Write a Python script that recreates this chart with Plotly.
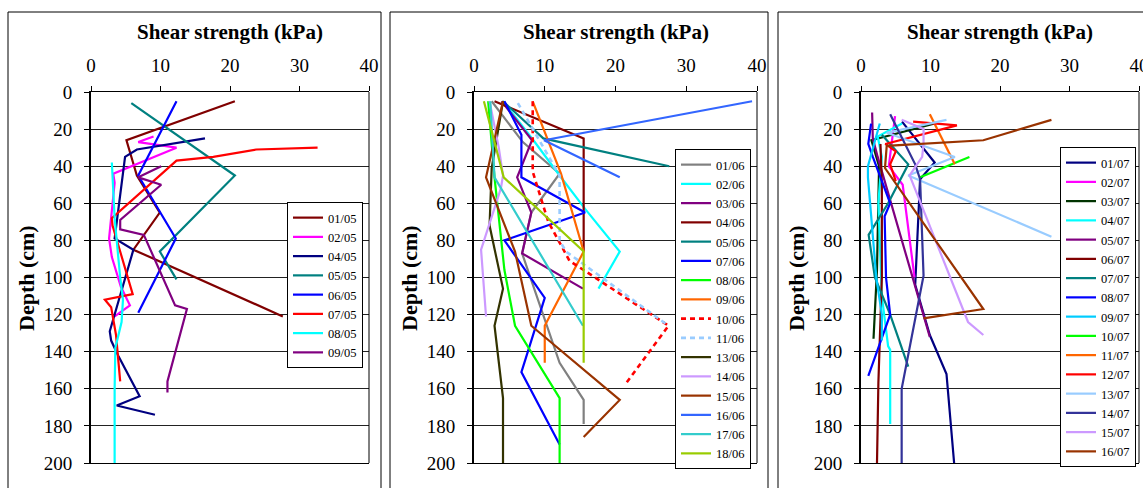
import plotly.graph_objects as go

W, H = 1143, 488
FONT = "Liberation Serif"

# ---------------- Panel 1 (May) ----------------
labels_may = ["01/05", "02/05", "04/05", "05/05", "06/05", "07/05", "08/05", "09/05"]
v_0105 = [20.7, 5.1, 6.6, 9.9, 6.1, 27.6]
d_0105 = [5, 26, 45, 65, 85, 121]
v_0205 = [9.0, 6.8, 12.3, 3.2, 3.4, 2.6, 3.0, 4.3, 5.6, 3.4]
d_0205 = [24, 27, 30, 44, 49, 79, 89, 105, 115, 121]
v_0405 = [16.4, 6.6, 4.9, 3.4, 6.1, 2.7, 2.9, 3.9, 7.0, 3.7, 9.2]
d_0405 = [25, 31, 35, 79, 85, 129, 134, 142, 164, 169, 174]
v_0505 = [5.8, 20.7, 9.9, 12.3]
d_0505 = [6, 45, 86, 101]
v_0605 = [12.3, 6.8, 12.2, 6.8]
d_0605 = [5, 45, 79, 119]
v_0705 = [32.6, 23.8, 17.6, 12.3, 3.0, 3.1, 6.0, 2.0, 2.9, 3.6, 4.2]
d_0705 = [30, 31, 35, 37, 68, 72, 109, 112, 116, 131, 156]
v_0805 = [3.0, 3.4, 4.2, 4.6, 4.4, 3.5, 3.4, 3.4]
d_0805 = [38, 68, 100, 112, 124, 138, 160, 200]
v_0905 = [10.1, 6.8, 10.1, 4.2, 4.2, 7.6, 12.1, 13.8, 11.0, 11.0]
d_0905 = [40, 46, 50, 69, 74, 77, 115, 117, 156, 162]

# ---------------- Panel 2 (June) ----------------
labels_jun = ["01/06", "02/06", "03/06", "04/06", "05/06", "07/06", "08/06", "09/06",
              "10/06", "11/06", "13/06", "14/06", "15/06", "16/06", "17/06", "18/06"]
v_0106 = [2.5, 6.9, 12.1, 8.1, 6.8, 12.1, 15.5, 15.5]
d_0106 = [5, 27, 44, 65, 87, 146, 166, 179]
v_0206 = [4.1, 8.4, 12.1, 15.7, 20.6, 17.6]
d_0206 = [5, 26, 45, 63, 86, 106]
v_0306 = [3.9, 8.2, 6.1, 8.1, 6.8, 15.4]
d_0306 = [5, 26, 46, 65, 87, 106]
v_0406 = [2.9, 15.5, 15.5]
d_0406 = [5, 25, 86]
v_0506 = [4.1, 9.8, 27.6]
d_0506 = [5, 25, 40]
v_0706 = [4.3, 6.7, 6.7, 15.7, 4.3, 10.0, 6.7, 12.1]
d_0706 = [5, 23, 46, 65, 80, 111, 151, 190]
v_0806 = [2.0, 2.9, 4.3, 5.8, 12.1, 12.1]
d_0806 = [5, 46, 96, 126, 165, 200]
v_0906 = [8.3, 12.3, 15.5, 10.0, 10.0]
d_0906 = [5, 44, 86, 126, 146]
v_1006 = [8.3, 8.3, 10.5, 12.1, 13.5, 27.5, 21.5]
d_1006 = [5, 43, 70, 81, 91, 126, 157]
v_1106 = [6.2, 12.1, 12.1, 13.0, 27.5]
d_1106 = [6, 45, 80, 86, 126]
v_1306 = [4.1, 2.5, 2.2, 4.1, 2.9, 4.1, 4.1]
d_1306 = [5, 41, 72, 106, 126, 165, 200]
v_1406 = [2.2, 3.5, 4.1, 3.8, 1.0, 1.7]
d_1406 = [5, 30, 45, 52, 85, 121]
v_1506 = [4.1, 1.7, 5.8, 8.1, 20.6, 15.5]
d_1506 = [5, 46, 86, 126, 166, 186]
v_1606 = [39.3, 9.9, 20.6]
d_1606 = [5, 26, 46]
v_1706 = [2.3, 2.9, 15.4]
d_1706 = [5, 46, 126]
v_1806 = [1.4, 4.2, 15.5, 15.5]
d_1806 = [5, 46, 86, 146]

# ---------------- Panel 3 (July) ----------------
labels_jul = ["01/07", "02/07", "03/07", "04/07", "05/07", "06/07", "07/07", "08/07",
              "09/07", "10/07", "11/07", "12/07", "13/07", "14/07", "15/07", "16/07"]
v_0107 = [5.9, 10.6, 8.5, 7.8, 9.9, 12.3, 13.4]
d_0107 = [16, 38, 47, 104, 131, 152, 200]
v_0207 = [4.9, 4.3, 4.0, 6.0, 7.7]
d_0207 = [13, 30, 40, 50, 100]
v_0307 = [10.6, 1.5, 2.6, 2.3, 1.8]
d_0307 = [17, 26, 40, 96, 133]
v_0407 = [5.9, 2.4, 3.0, 2.5, 3.0, 3.9, 4.2, 4.2]
d_0407 = [17, 24, 35, 60, 110, 137, 139, 179]
v_0507 = [1.6, 1.7, 2.4, 9.9]
d_0507 = [11, 25, 35, 132]
v_0607 = [2.8, 3.0, 3.0, 2.5, 2.3]
d_0607 = [28, 50, 100, 157, 200]
v_0707 = [3.0, 6.8, 3.9, 1.1, 2.0, 4.2, 6.8]
d_0707 = [23, 39, 60, 77, 100, 120, 148]
v_0807 = [1.45, 1.05, 1.7, 4.2, 3.4, 3.6, 4.2, 1.05]
d_0807 = [17, 28, 35, 60, 67, 100, 120, 153]
v_0907 = [2.7, 1.0, 1.0, 2.2, 3.0, 3.0]
d_0907 = [17, 40, 46, 100, 120, 134]
v_1007 = [15.6, 8.5]
d_1007 = [35, 46]
v_1107 = [9.9, 13.5]
d_1107 = [12, 39]
v_1207 = [7.5, 13.8, 3.5, 5.0, 4.2, 5.0]
d_1207 = [16, 18, 28, 32, 39, 48]
v_1307 = [12.3, 3.7, 13.5, 6.8, 27.4]
d_1307 = [15, 22, 35, 45, 78]
v_1407 = [4.2, 7.8, 8.5, 9.0, 5.85, 5.85]
d_1407 = [12, 39, 47, 99, 160, 200]
v_1507 = [5.85, 9.0, 9.0, 8.8, 7.0, 15.4, 17.6]
d_1507 = [15, 20, 28, 35, 45, 124, 131]
v_1607 = [27.4, 17.6, 3.7, 3.45, 17.6, 9.0]
d_1607 = [15, 26, 29, 41, 117, 122]

x_ticks = [0, 10, 20, 30, 40]
y_ticks = [0, 20, 40, 60, 80, 100, 120, 140, 160, 180, 200]

# ---------------- styles ----------------
panel_may = [
    (v_0105, d_0105, "#800000", "solid"), (v_0205, d_0205, "#FF00FF", "solid"),
    (v_0405, d_0405, "#000080", "solid"), (v_0505, d_0505, "#008080", "solid"),
    (v_0605, d_0605, "#0000FF", "solid"), (v_0705, d_0705, "#FF0000", "solid"),
    (v_0805, d_0805, "#00FFFF", "solid"), (v_0905, d_0905, "#800080", "solid"),
]
panel_jun = [
    (v_0106, d_0106, "#808080", "solid"), (v_0206, d_0206, "#00FFFF", "solid"),
    (v_0306, d_0306, "#800080", "solid"), (v_0406, d_0406, "#800000", "solid"),
    (v_0506, d_0506, "#008080", "solid"), (v_0706, d_0706, "#0000FF", "solid"),
    (v_0806, d_0806, "#00FF00", "solid"), (v_0906, d_0906, "#FF6600", "solid"),
    (v_1006, d_1006, "#FF0000", "5px,4px"), (v_1106, d_1106, "#99CCFF", "5px,4px"),
    (v_1306, d_1306, "#333300", "solid"), (v_1406, d_1406, "#CC99FF", "solid"),
    (v_1506, d_1506, "#993300", "solid"), (v_1606, d_1606, "#3366FF", "solid"),
    (v_1706, d_1706, "#33CCCC", "solid"), (v_1806, d_1806, "#99CC00", "solid"),
]
panel_jul = [
    (v_0107, d_0107, "#000080", "solid"), (v_0207, d_0207, "#FF00FF", "solid"),
    (v_0307, d_0307, "#003300", "solid"), (v_0407, d_0407, "#00FFFF", "solid"),
    (v_0507, d_0507, "#800080", "solid"), (v_0607, d_0607, "#800000", "solid"),
    (v_0707, d_0707, "#008080", "solid"), (v_0807, d_0807, "#0000FF", "solid"),
    (v_0907, d_0907, "#00CCFF", "solid"), (v_1007, d_1007, "#00FF00", "solid"),
    (v_1107, d_1107, "#FF6600", "solid"), (v_1207, d_1207, "#FF0000", "solid"),
    (v_1307, d_1307, "#99CCFF", "solid"), (v_1407, d_1407, "#333399", "solid"),
    (v_1507, d_1507, "#CC99FF", "solid"), (v_1607, d_1607, "#993300", "solid"),
]


def px(x):
    return x / W


def py(y):
    return 1 - y / H


fig = go.Figure()

panels = [
    (labels_may, panel_may, "x", "y", "legend", (91, 369), (363, 202), 8, 381, 26),
    (labels_jun, panel_jun, "x2", "y2", "legend2", (474, 757), (751, 149), 390, 768, 409),
    (labels_jul, panel_jul, "x3", "y3", "legend3", (861, 1139), (1136, 147), 778, 1160, 796),
]

layout = dict(
    width=W, height=H, autosize=False,
    margin=dict(l=0, r=0, t=0, b=0, pad=0, autoexpand=False),
    paper_bgcolor="white", plot_bgcolor="white",
    font=dict(family=FONT, color="black", size=18),
    shapes=[], annotations=[],
)

for i, (labels, series, xa, ya, lg, (xl, xr), (lgx, lgy), fx0, fx1, ytx) in enumerate(panels):
    for lab, (v, d, col, dash) in zip(labels, series):
        fig.add_trace(go.Scatter(
            x=v, y=d, mode="lines", name=lab, xaxis=xa, yaxis=ya, legend=lg,
            line=dict(color=col, width=2.6 if dash != "solid" else 2.2, dash=dash),
        ))
    sfx = "" if i == 0 else str(i + 1)
    layout["xaxis" + sfx] = dict(
        domain=[px(xl), px(xr)], anchor=ya, side="top", range=[0, 40],
        tickvals=x_ticks, ticks="outside", ticklen=5, tickcolor="black",
        showline=True, linecolor="black", linewidth=1, mirror=True,
        showgrid=False, zeroline=False, tickfont=dict(size=19, family=FONT),
        ticklabelstandoff=6, automargin=False, ticklabeloverflow="allow",
    )
    layout["yaxis" + sfx] = dict(
        domain=[py(463), py(92)], anchor=xa, range=[200, 0],
        tickvals=y_ticks, ticks="outside", ticklen=5, tickcolor="black",
        showline=True, linecolor="black", linewidth=2,
        showgrid=True, gridcolor="#222222", gridwidth=1, zeroline=False,
        tickfont=dict(size=19, family=FONT), ticklabelstandoff=8, automargin=False,
    )
    layout[lg] = dict(
        x=px(lgx), y=py(lgy), xanchor="right", yanchor="top",
        bgcolor="white", bordercolor="black", borderwidth=1,
        font=dict(size=12.5, family=FONT), tracegroupgap=0,
    )
    # right border of plot area
    layout["shapes"].append(dict(type="line", xref=xa + " domain", yref=ya + " domain",
                                 x0=1, x1=1, y0=0, y1=1, line=dict(color="black", width=1)))
    # panel frame
    layout["shapes"].append(dict(type="rect", xref="paper", yref="paper",
                                 x0=px(fx0), x1=px(fx1), y0=py(12), y1=py(540),
                                 line=dict(color="black", width=1), layer="below"))
    layout["annotations"].append(dict(
        text="<b>Shear strength (kPa)</b>", xref="paper", yref="paper",
        x=px((xl + xr) / 2), y=py(32), xanchor="center", yanchor="middle",
        showarrow=False, font=dict(size=21, family=FONT)))
    layout["annotations"].append(dict(
        text="<b>Depth (cm)</b>", xref="paper", yref="paper", textangle=-90,
        x=px(ytx), y=py(278), xanchor="center", yanchor="middle",
        showarrow=False, font=dict(size=22, family=FONT)))

layout["showlegend"] = True
fig.update_layout(**layout)
fig.write_html("out.html")
